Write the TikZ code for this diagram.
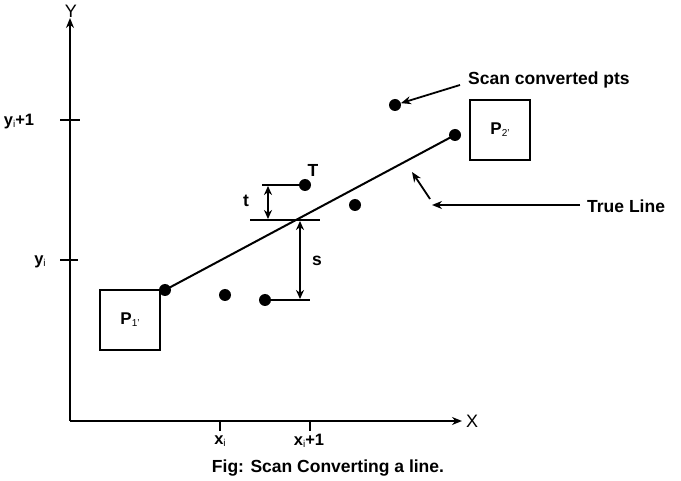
\documentclass[tikz,border=0pt]{standalone}
\usepackage{fontspec}
\setmainfont{Liberation Sans}
\usetikzlibrary{arrows.meta}
\begin{document}
\begin{tikzpicture}[x=1pt,y=-1pt,
  dot/.style={circle,fill=black,inner sep=0pt,minimum size=12pt},
  pbox/.style={draw,line width=1.6pt,minimum size=60pt,inner sep=0pt,font=\bfseries\fontsize{17}{19}\selectfont},
  lbl/.style={inner sep=0pt,font=\bfseries\fontsize{17.5}{20}\selectfont},
  axlbl/.style={inner sep=0pt,font=\fontsize{18}{20}\selectfont},
  ticklbl/.style={inner sep=0pt,font=\bfseries\fontsize{16.5}{19}\selectfont},
  axis/.style={line width=2pt,-{Stealth[length=10pt,width=8pt]}},
  thin/.style={line width=1.8pt},
  arr/.style={line width=1.8pt,-{Stealth[length=10pt,width=8pt]}},
  darr/.style={line width=1.8pt,{Stealth[length=9pt,width=8pt]}-{Stealth[length=9pt,width=8pt]}}
]
\newcommand{\smallsub}[1]{\raisebox{-2pt}{\fontsize{10}{10}\selectfont\mdseries #1}}
\useasboundingbox (0,0) rectangle (681,481);
% axes
\coordinate (O) at (70,421);
\coordinate (ytip) at (70,18);
\coordinate (xtip) at (462,421);
\draw[axis] (O) -- (ytip);
\draw[axis] (O) -- (xtip);
\node[axlbl] (ylab) at (71,11) {Y};
\node[axlbl] (xlab) at (472,421) {X};
% ticks
\coordinate (ty1a) at (60,120); \coordinate (ty1b) at (80,120);
\coordinate (ty0a) at (60,260); \coordinate (ty0b) at (78,260);
\coordinate (tx0a) at (220,421); \coordinate (tx0b) at (220,431);
\coordinate (tx1a) at (310,421); \coordinate (tx1b) at (310,431);
\draw[thin] (ty1a) -- (ty1b);
\draw[thin] (ty0a) -- (ty0b);
\draw[thin] (tx0a) -- (tx0b);
\draw[thin] (tx1a) -- (tx1b);
\node[ticklbl] (yi1) at (19,122) {y\smallsub{i}+1};
\node[ticklbl] (yi) at (40,262) {y\smallsub{i}};
\node[ticklbl] (xi) at (220,441) {x\smallsub{i}};
\node[ticklbl] (xi1) at (309,441) {x\smallsub{i}+1};
% boxes
\node[pbox] (P1) at (130,320) {P\smallsub{1'}};
\node[pbox] (P2) at (500,130) {P\smallsub{2'}};
% dots
\node[dot] (d1) at (165,290) {};
\node[dot] (d2) at (225,295) {};
\node[dot] (d3) at (265,300) {};
\node[dot] (dT) at (305,185) {};
\node[dot] (d5) at (355,205) {};
\node[dot] (d6) at (395,105) {};
\node[dot] (d7) at (455,135) {};
% true line
\draw[line width=2pt] (d1.center) -- (d7.center);
% t and s measures
\coordinate (tl) at (262,185);
\coordinate (ml) at (250,220);
\coordinate (mr) at (320,220);
\coordinate (bl) at (310,300);
\coordinate (ta) at (268,186);
\coordinate (tb) at (268,219);
\coordinate (sa) at (300,221);
\coordinate (sb) at (300,299);
\draw[thin] (tl) -- (dT.center);
\draw[thin] (ml) -- (mr);
\draw[thin] (d3.center) -- (bl);
\draw[darr] (ta) -- (tb);
\draw[darr] (sa) -- (sb);
\node[lbl] (Tlab) at (313,170) {T};
\node[lbl] (tlab) at (246,201) {t};
\node[lbl] (slab) at (317,261) {s};
% annotations
\node[lbl,anchor=west] (scan) at (468,80) {Scan converted pts};
\node[lbl,anchor=west] (true) at (587,206) {True Line};
\coordinate (sstart) at (460,85);
\coordinate (tstart) at (580,205);
\coordinate (tmid) at (432,205);
\coordinate (t2a) at (430,199);
\coordinate (t2b) at (412,172);
\draw[arr] (sstart) -- (d6);
\draw[arr] (tstart) -- (tmid);
\draw[arr] (t2a) -- (t2b);
% caption
\node[lbl] (cap) at (328,468) {Fig: Scan Converting a line.};
\end{tikzpicture}
\end{document}
